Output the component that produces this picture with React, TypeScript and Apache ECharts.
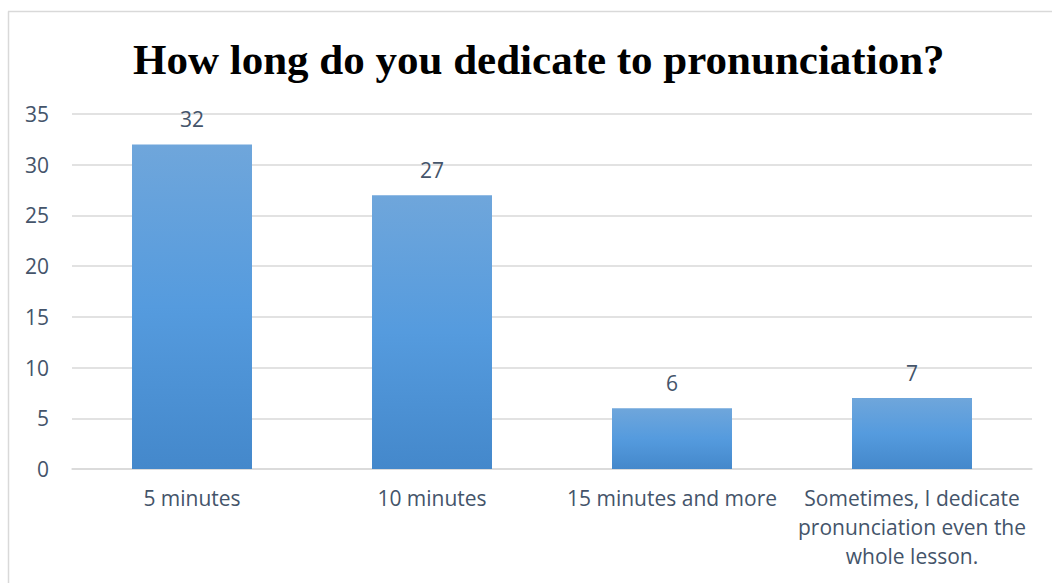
import React, { useEffect, useRef } from "react";
import * as echarts from "echarts";

const title = "How long do you dedicate to pronunciation?";
const categories = [
  "5 minutes",
  "10 minutes",
  "15 minutes and more",
  "Sometimes, I dedicate\npronunciation even the\nwhole lesson.",
];
const values = [32, 27, 6, 7];
const yTicks = { min: 0, max: 35, interval: 5 };

export default function App() {
  const ref = useRef<HTMLDivElement>(null);
  useEffect(() => {
    if (!ref.current) return;
    const chart = echarts.init(ref.current, undefined, { renderer: "svg" });
    const textColor = "#44546A";
    const font = "'Open Sans', sans-serif";
    chart.setOption({
      animation: false,
      backgroundColor: "#ffffff",
      title: {
        text: title,
        left: 128,
        top: 33,
        textStyle: {
          fontFamily: "'Liberation Serif', 'Times New Roman', serif",
          fontWeight: "bold",
          fontSize: 43,
          color: "#000000",
        },
      },
      grid: { left: 72, right: 20, top: 114, bottom: 114, containLabel: false },
      xAxis: {
        type: "category",
        data: categories,
        axisTick: { show: false },
        axisLine: { lineStyle: { color: "#D9D9D9", width: 1.5 } },
        axisLabel: {
          color: textColor,
          fontFamily: font,
          fontSize: 21,
          margin: 14,
          lineHeight: 29,
          interval: 0,
        },
      },
      yAxis: {
        type: "value",
        min: yTicks.min,
        max: yTicks.max,
        interval: yTicks.interval,
        axisLine: { show: false },
        axisTick: { show: false },
        splitLine: { lineStyle: { color: "#D9D9D9", width: 1.5 } },
        axisLabel: {
          color: textColor,
          fontFamily: font,
          fontSize: 21,
          margin: 23,
        },
      },
      series: [
        {
          type: "bar",
          data: values,
          barWidth: "50%",
          itemStyle: {
            color: new echarts.graphic.LinearGradient(0, 0, 0, 1, [
              { offset: 0, color: "#6FA6DB" },
              { offset: 0.5, color: "#559BDE" },
              { offset: 1, color: "#4488CB" },
            ]),
          },
          label: {
            show: true,
            position: "top",
            distance: 15,
            color: textColor,
            fontFamily: font,
            fontSize: 21,
          },
        },
      ],
      graphic: [
        {
          type: "line",
          shape: { x1: 8.5, y1: 11.5, x2: 8.5, y2: 583 },
          style: { stroke: "#D9D9D9", lineWidth: 1.5 },
        },
        {
          type: "line",
          shape: { x1: 8, y1: 11.5, x2: 1052, y2: 11.5 },
          style: { stroke: "#D9D9D9", lineWidth: 1.5 },
        },
      ],
    });
    return () => chart.dispose();
  }, []);
  return (
    <div
      ref={ref}
      style={{ position: "fixed", left: 0, top: 0, width: 1052, height: 583 }}
    />
  );
}
